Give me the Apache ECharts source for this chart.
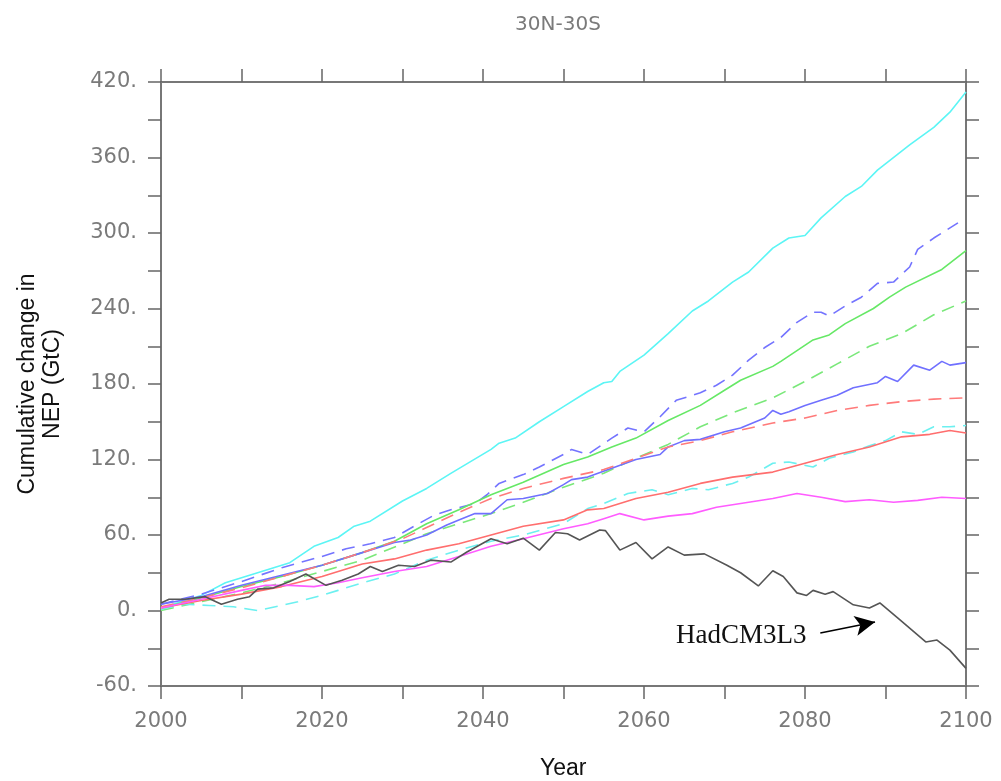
<!DOCTYPE html>
<html>
<head>
<meta charset="utf-8">
<script src="https://cdn.jsdelivr.net/npm/echarts@6/dist/echarts.min.js"></script>
<style>html,body{margin:0;padding:0;background:#fff;}#c{width:1001px;height:781px;}</style>
</head>
<body>
<div id="c"></div>
<script>
// ---- Data ----
const chartTitle = '30N-30S';
const xTitle = 'Year';
const yTitle = 'Cumulative change in\nNEP (GtC)';
const annotationText = 'HadCM3L3';

const cyanSolidYears = [2000,2005,2008,2011,2016,2019,2022,2024,2026,2030,2033,2036,2041,2042,2044,2047,2050,2053,2055,2056,2057,2060,2063,2066,2068,2071,2073,2076,2078,2080,2082,2085,2087,2089,2093,2096,2098,2100];
const cyanSolidValues = [2,12,22,28,38,51,58,67,71,87,97,109,128,133,137,150,162,174,181,182,190,203,220,238,246,261,269,288,296,298,312,329,337,350,370,384,396,412];

const blueDashedYears = [2000,2005,2010,2015,2020,2023,2026,2029,2032,2034,2036,2039,2040.5,2042,2045,2047,2050,2051,2053,2056,2058,2060,2062,2064,2067,2069,2071,2073,2075,2077,2079,2081,2082,2083,2085,2087,2089,2091,2093,2094,2096,2099];
const blueDashedValues = [5,13,23,34,43,49,53,58,69,76,80,85,92,101,108,114,124,128,124,137,145,142,154,167,173,179,187,199,209,217,229,237,237,234,242,249,260,261,273,287,296,308];

const greenSolidYears = [2000,2005,2010,2015,2020,2025,2029,2033,2037,2041,2045,2050,2053,2056,2059,2063,2067,2070,2072,2076,2077,2081,2083,2085,2088.5,2090.5,2092.5,2097,2100];
const greenSolidValues = [2,10,19,27,36,46,55,69,80,92,102,116,122,130,137,151,163,175,183,194,198,215,219,228,240,249,257,271,286];

const greenDashedYears = [2000,2005,2010,2015,2020,2025,2030,2033,2037,2041,2045,2050,2055,2059,2063,2067,2071,2076,2080,2084,2088,2092,2096,2100];
const greenDashedValues = [0,7,14,22,31,40,53,61,69,77,86,98,109,121,132,146,157,169,182,196,210,220,235,246];

const blueSolidYears = [2000,2005,2010,2015,2020,2025,2029,2031,2033,2035.5,2037,2039,2041,2043,2045,2048,2050,2051,2053,2056,2059,2062,2063,2065,2067,2070,2072,2075,2076,2077,2078,2080,2082,2084,2086,2089,2090,2091.5,2093.5,2095.5,2097,2098,2100];
const blueSolidValues = [5,11,20,28,36,46,54,56,60,68,72,77,77,88,89,93,100,104,106,113,120,124,130,135,136,142,145,153,159,156,158,163,167,171,177,181,186,182,195,191,198,195,197];

const redDashedYears = [2000,2005,2010,2015,2020,2025,2030,2033,2037,2041,2045,2050,2055,2059,2063,2067,2071,2076,2080,2084,2088,2092,2096,2100];
const redDashedValues = [3,10,18,27,36,46,57,66,78,89,97,105,112,121,130,135,142,149,153,159,163,166,168,169];

const cyanDashedYears = [2000,2003,2006,2009,2012,2015,2017,2020,2022,2025,2029,2033,2037,2041,2045,2050,2053,2055,2058,2061,2063,2066,2068,2071,2073,2076,2078,2081,2083,2086,2088,2090,2092,2094,2096,2098,2100];
const cyanDashedValues = [1,5,4,3,0,4,7,12,16,22,29,40,48,55,60,69,81,85,93,96,92,97,96,101,106,117,118,114,121,126,131,135,142,140,146,146,147];

const redSolidYears = [2000,2005,2010,2015,2020,2025,2029,2033,2037,2041,2045,2050,2053,2055,2059,2063,2067,2071,2076,2080,2084,2088,2092,2095.5,2098,2100];
const redSolidValues = [2,8,13,19,27,37,41,48,53,60,67,72,80,81,89,94,101,106,110,117,124,130,138,140,143,141];

const magentaYears = [2000,2005,2010,2013,2016,2019,2022,2025,2029,2033,2037,2041,2045,2050,2053,2055,2057,2060,2063,2066,2069,2072,2076,2079,2082,2085,2088,2091,2094,2097,2100];
const magentaValues = [2,9,16,20,20,19,22,26,31,35,43,51,57,65,69,73,77,72,75,77,82,85,89,93,90,86.5,88,86,87.5,90,89];

const hadcmYears = [2000,2001,2003,2005.5,2007.5,2009.5,2011,2012,2014,2016,2018,2020.5,2022.5,2024.5,2026,2027.5,2029.5,2031.5,2033.5,2036,2038,2041,2043,2045,2047,2049,2050.5,2052,2054.5,2055.2,2057,2059,2061,2063,2065,2067.5,2070.3,2072,2074.2,2076,2077.3,2079,2080.2,2081,2082.5,2083.5,2086,2088,2089.3,2091.8,2095,2096.4,2098,2100];
const hadcmValues = [6,9,9,11,5,9,11,17,18,23,29,20,24,29,35,31,36,35,40,38.5,46.5,57,53,57.5,48,62,61,56,64,63.5,48,54,41,50.5,44,45,36,30,19.5,31.6,27,14,12,16,13,15,4.5,2,6,-7.5,-25,-23.5,-31.5,-46];

// annotation arrow in data space (start near label, tip near curve)
const arrowStart = [2081.9, -17.9];
const arrowEnd = [2088.7, -9.1];

// ---- Build ----
function zip(xs, ys){ return xs.map((x,i)=>[x, ys[i]]); }

const seriesDefs = [
  {name:'cyan solid', years:cyanSolidYears, values:cyanSolidValues, color:'#5cf5f5', type:'solid'},
  {name:'blue dashed', years:blueDashedYears, values:blueDashedValues, color:'#7474ff', type:'dashed'},
  {name:'green solid', years:greenSolidYears, values:greenSolidValues, color:'#66e866', type:'solid'},
  {name:'green dashed', years:greenDashedYears, values:greenDashedValues, color:'#7ae87a', type:'dashed'},
  {name:'blue solid', years:blueSolidYears, values:blueSolidValues, color:'#7070ff', type:'solid'},
  {name:'red dashed', years:redDashedYears, values:redDashedValues, color:'#ff7a7a', type:'dashed'},
  {name:'cyan dashed', years:cyanDashedYears, values:cyanDashedValues, color:'#6cf0f0', type:'dashed'},
  {name:'red solid', years:redSolidYears, values:redSolidValues, color:'#ff6e6e', type:'solid'},
  {name:'magenta solid', years:magentaYears, values:magentaValues, color:'#ff5cff', type:'solid'},
  {name:'HadCM3L3', years:hadcmYears, values:hadcmValues, color:'#555555', type:'solid'}
];

const axisGray = '#777777';
const labelGray = '#7a7a7a';

const series = seriesDefs.map(d => ({
  name: d.name,
  type: 'line',
  xAxisIndex: 0, yAxisIndex: 0,
  data: zip(d.years, d.values),
  showSymbol: false,
  symbol: 'none',
  smooth: false,
  lineStyle: { color: d.color, width: 1.6, type: d.type === 'dashed' ? [13, 8] : 'solid' },
  z: 3
}));

// annotation on the HadCM3L3 series
series[series.length - 1].markLine = {
  silent: true,
  symbol: ['none', 'arrow'],
  symbolSize: [15, 20],
  lineStyle: { color: '#000', width: 1.6, type: 'solid' },
  label: {
    show: true, position: 'start', formatter: annotationText, distance: 14,
    fontFamily: 'Liberation Serif', fontSize: 27, color: '#111'
  },
  data: [[{ coord: arrowStart }, { coord: arrowEnd }]]
};

const tickStyle = { show: true, inside: false, length: 13, lineStyle: { color: '#666', width: 1.5 } };
const lineStyleAxis = { show: true, onZero: false, lineStyle: { color: axisGray, width: 2 } };

const option = {
  animation: false,
  backgroundColor: '#ffffff',
  title: {
    text: chartTitle, left: 553, top: 10, textAlign: 'center',
    textStyle: { fontFamily: 'DejaVu Sans', fontWeight: 'normal', fontSize: 20, color: labelGray }
  },
  grid: { left: 161, right: 35, top: 82, bottom: 95, containLabel: false },
  xAxis: [
    {
      type: 'value', min: 2000, max: 2100, interval: 10, position: 'bottom',
      axisLine: lineStyleAxis, axisTick: tickStyle, splitLine: { show: false },
      axisLabel: {
        margin: 25, fontFamily: 'DejaVu Sans', fontSize: 21, color: labelGray,
        formatter: v => (v % 20 === 0 ? String(v) : '')
      }
    },
    {
      type: 'value', min: 2000, max: 2100, interval: 10, position: 'top',
      axisLine: lineStyleAxis, axisTick: tickStyle, splitLine: { show: false },
      axisLabel: { show: false }
    }
  ],
  yAxis: [
    {
      type: 'value', min: -60, max: 420, interval: 30, position: 'left',
      axisLine: lineStyleAxis, axisTick: tickStyle, splitLine: { show: false },
      axisLabel: {
        margin: 24, fontFamily: 'DejaVu Sans', fontSize: 21, color: labelGray,
        formatter: v => (v % 60 === 0 ? v + '.' : '')
      }
    },
    {
      type: 'value', min: -60, max: 420, interval: 30, position: 'right',
      axisLine: lineStyleAxis, axisTick: tickStyle, splitLine: { show: false },
      axisLabel: { show: false }
    }
  ],
  graphic: [
    {
      type: 'text', left: 540, top: 757,
      style: { text: xTitle, fontFamily: 'Liberation Sans', fontSize: 23, fill: '#111' }
    },
    {
      type: 'text', x: 40, y: 384, rotation: Math.PI / 2,
      style: {
        text: yTitle, fontFamily: 'Liberation Sans', fontSize: 23, fill: '#111',
        align: 'center', verticalAlign: 'middle', lineHeight: 25
      }
    }
  ],
  series: series
};

const chart = echarts.init(document.getElementById('c'), null, { renderer: 'canvas' });
chart.setOption(option);
</script>
</body>
</html>
